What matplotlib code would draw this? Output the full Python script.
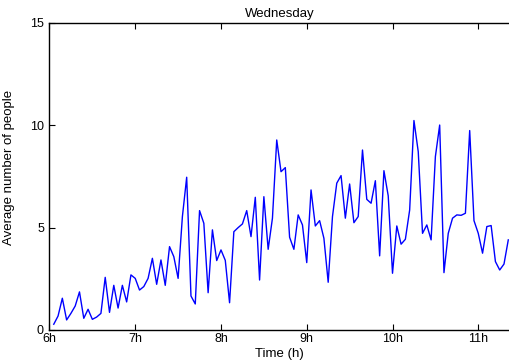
import numpy as np
import matplotlib
matplotlib.use("Agg")
import matplotlib.pyplot as plt

# Samples every 3 minutes, starting 6:03
start_hour = 6.05
step_hour = 0.05
people = [
    0.28, 0.68, 1.55, 0.49, 0.81, 1.17, 1.86, 0.57, 1.01, 0.52,
    0.63, 0.81, 2.57, 0.86, 2.18, 1.07, 2.18, 1.37, 2.69, 2.52,
    1.95, 2.12, 2.52, 3.50, 2.23, 3.42, 2.18, 4.07, 3.58, 2.52,
    5.54, 7.46, 1.66, 1.27, 5.83, 5.21, 1.82, 4.89, 3.39, 3.91,
    3.40, 1.33, 4.80, 5.00, 5.18, 5.83, 4.56, 6.48, 2.44, 6.51,
    3.94, 5.46, 9.28, 7.73, 7.93, 4.53, 3.94, 5.62, 5.13, 3.29,
    6.84, 5.08, 5.34, 4.48, 2.33, 5.54, 7.17, 7.54, 5.46, 7.13,
    5.24, 5.54, 8.79, 6.38, 6.19, 7.29, 3.62, 7.78, 6.55, 2.77,
    5.08, 4.19, 4.43, 5.86, 10.23, 8.71, 4.72, 5.13, 4.40, 8.47,
    10.01, 2.80, 4.72, 5.46, 5.62, 5.60, 5.70, 9.74, 5.34, 4.72,
    3.75, 5.05, 5.10, 3.34, 2.93, 3.22, 4.40,
]
hours = start_hour + step_hour * np.arange(len(people))

x_ticks = [6, 7, 8, 9, 10, 11]
x_labels = ["6h", "7h", "8h", "9h", "10h", "11h"]
y_ticks = [0, 5, 10, 15]

plt.rcParams["font.family"] = ["Liberation Sans", "DejaVu Sans"]

fig = plt.figure(figsize=(5.10, 3.63), dpi=100)
ax = fig.add_axes([0.097, 0.091, 0.903, 0.846])

ax.plot(hours, people, color="#0000ff", linewidth=1.0)

ax.set_xlim(6, 11.37)
ax.set_ylim(0, 15)
ax.set_xticks(x_ticks)
ax.set_xticklabels(x_labels)
ax.set_yticks(y_ticks)
ax.tick_params(axis="x", direction="in", length=4, width=0.8, top=True,
               labelsize=9, pad=2)
ax.tick_params(axis="y", direction="in", length=4, width=0.8, right=False,
               labelsize=9, pad=4)
for side in ("left", "bottom", "top"):
    ax.spines[side].set_linewidth(1.0)
ax.spines["right"].set_visible(False)

ax.set_title("Wednesday", fontsize=9.5, pad=4)
ax.set_xlabel("Time (h)", fontsize=9.5, labelpad=2)
ax.set_ylabel("Average number of people", fontsize=9.5)
ax.yaxis.set_label_coords(-0.075, 0.53)

fig.savefig("out.png", dpi=100, facecolor="white")
